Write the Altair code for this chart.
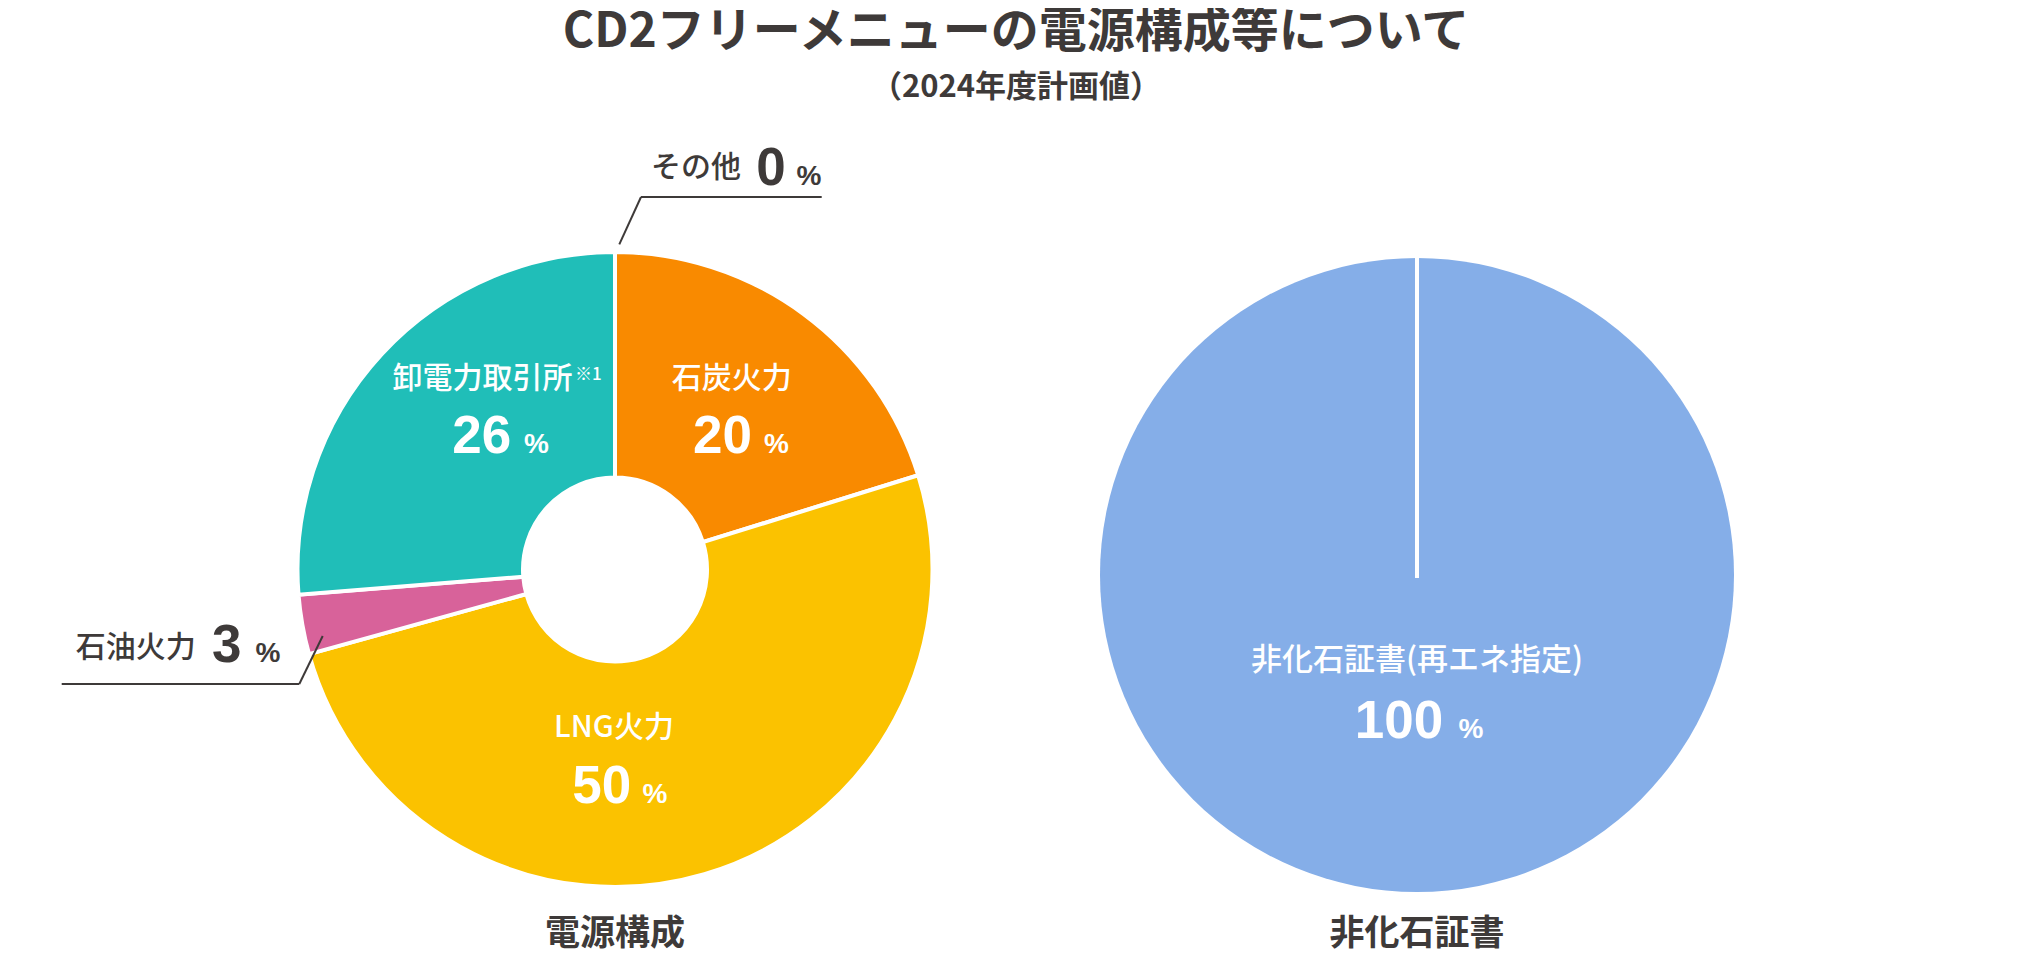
import altair as alt
import pandas as pd

# ---------------- data ----------------
TITLE = "CD2フリーメニューの電源構成等について"
SUBTITLE = "（2024年度計画値）"
MIX_CATEGORIES = ["石炭火力", "LNG火力", "石油火力", "卸電力取引所", "その他"]
MIX_VALUES = [20, 50, 3, 26, 0]
FOOTNOTE_MARK = "※1"
CERT_CATEGORIES = ["非化石証書(再エネ指定)"]
CERT_VALUES = [100]
PANEL_TITLES = ["電源構成", "非化石証書"]
PCT = "%"

# ---------------- styles ----------------
MIX_COLORS = ["#F98A00", "#FBC200", "#D8629A", "#20BEB8", "#9E9E9E"]
CERT_COLOR = "#85AEE8"
DARK = "#3E3A39"
JP = "Noto Sans CJK JP"
NUM = "Liberation Sans"
PAD_TOP = 24
OFF_X = 8             # page margin
OFF_Y = 8 + PAD_TOP   # page margin + top padding

mix_df = pd.DataFrame({"category": MIX_CATEGORIES, "value": MIX_VALUES,
                       "idx": list(range(len(MIX_VALUES)))})
cert_df = pd.DataFrame({"category": CERT_CATEGORIES, "value": CERT_VALUES,
                        "idx": list(range(len(CERT_VALUES)))})
one = pd.DataFrame({"k": [0]})

L_CX, L_CY = 615, 569.5
R_CX, R_CY = 1417, 575

donut = alt.Chart(mix_df).mark_arc(
    innerRadius=92, outerRadius=317.5, stroke="white", strokeWidth=4
).encode(
    theta=alt.Theta("value:Q", stack="normalize"),
    color=alt.Color("category:N", scale=alt.Scale(domain=MIX_CATEGORIES, range=MIX_COLORS), legend=None),
    order=alt.Order("idx:Q"),
    x=alt.value(L_CX - OFF_X), y=alt.value(L_CY - OFF_Y),
)

pie = alt.Chart(cert_df).mark_arc(outerRadius=317).encode(
    theta=alt.Theta("value:Q", stack="normalize"),
    color=alt.Color("category:N", scale=alt.Scale(domain=CERT_CATEGORIES, range=[CERT_COLOR]), legend=None),
    order=alt.Order("idx:Q"),
    x=alt.value(R_CX - OFF_X), y=alt.value(R_CY - OFF_Y),
)

pie_sep = alt.Chart(one).mark_rule(color="white", strokeWidth=4).encode(
    x=alt.value(R_CX - OFF_X), y=alt.value(257 - OFF_Y), y2=alt.value(R_CY + 3 - OFF_Y)
)


def txt(text, x, y, size, color, weight="normal", font=JP, baseline="middle", align="center"):
    return alt.Chart(one).mark_text(
        text=text, fontSize=size, color=color, fontWeight=weight, font=font,
        baseline=baseline, align=align
    ).encode(x=alt.value(x - OFF_X), y=alt.value(y - OFF_Y))


def seg(x1, y1, x2, y2):
    return alt.Chart(one).mark_rule(color=DARK, strokeWidth=2).encode(
        x=alt.value(x1 - OFF_X), y=alt.value(y1 - OFF_Y),
        x2=alt.value(x2 - OFF_X), y2=alt.value(y2 - OFF_Y)
    )


W = "white"
NUM_SIZE = 53
PCT_SIZE = 28
LBL_SIZE = 30
MED = 500

layers = [donut, pie, pie_sep]

# title
layers += [
    txt(TITLE, 1016, 47, 48, DARK, "bold", baseline="alphabetic"),
    txt(SUBTITLE, 1016, 88, 31, DARK, "bold"),
]

# inside labels (donut)
inside = {
    0: (731.7, 379, 722.5, 776.5, 453.3),   # 石炭火力
    1: (614, 728, 601.7, 655, 803.3),       # LNG火力
    3: (482.5, 379, 481.7, 536.5, 453.3),   # 卸電力取引所
}
for i, (lx, ly, nx, px, base) in inside.items():
    layers += [
        txt(MIX_CATEGORIES[i], lx, ly, LBL_SIZE, W, MED),
        txt(str(MIX_VALUES[i]), nx, base, NUM_SIZE, W, "bold", NUM, "alphabetic"),
        txt(PCT, px, base, PCT_SIZE, W, "bold", NUM, "alphabetic"),
    ]
layers.append(txt(FOOTNOTE_MARK, 575, 375, 17, W, MED, align="left"))

# outside callouts
layers += [
    txt(MIX_CATEGORIES[2], 135.8, 648, LBL_SIZE, DARK, MED),
    txt(str(MIX_VALUES[2]), 226.7, 661.7, NUM_SIZE, DARK, "bold", NUM, "alphabetic"),
    txt(PCT, 268, 661.7, PCT_SIZE, DARK, "bold", NUM, "alphabetic"),
    seg(61.7, 684, 299.3, 684),
    seg(299.3, 684, 322.7, 636),
    txt(MIX_CATEGORIES[4], 696, 168, LBL_SIZE, DARK, MED),
    txt(str(MIX_VALUES[4]), 771, 185, NUM_SIZE, DARK, "bold", NUM, "alphabetic"),
    txt(PCT, 809, 185, PCT_SIZE, DARK, "bold", NUM, "alphabetic"),
    seg(619.3, 244.3, 641, 197),
    seg(641, 197, 821.7, 197),
]

# certificate pie labels
layers += [
    txt(CERT_CATEGORIES[0], 1417, 661, 31, W, MED),
    txt(str(CERT_VALUES[0]), 1399, 738, NUM_SIZE, W, "bold", NUM, "alphabetic"),
    txt(PCT, 1471, 738, PCT_SIZE, W, "bold", NUM, "alphabetic"),
]

# panel captions
layers += [
    txt(PANEL_TITLES[0], L_CX, 934, 35, DARK, "bold"),
    txt(PANEL_TITLES[1], R_CX, 934, 35, DARK, "bold"),
]

chart = alt.layer(*layers).resolve_scale(
    theta="independent", color="independent"
).properties(
    width=2016, height=962 - PAD_TOP,
    padding={"top": PAD_TOP, "left": 0, "right": 0, "bottom": 0},
    autosize=alt.AutoSizeParams(type="none")
).configure_view(stroke=None)

chart.save("out.html", embed_options={"renderer": "svg", "actions": False})
